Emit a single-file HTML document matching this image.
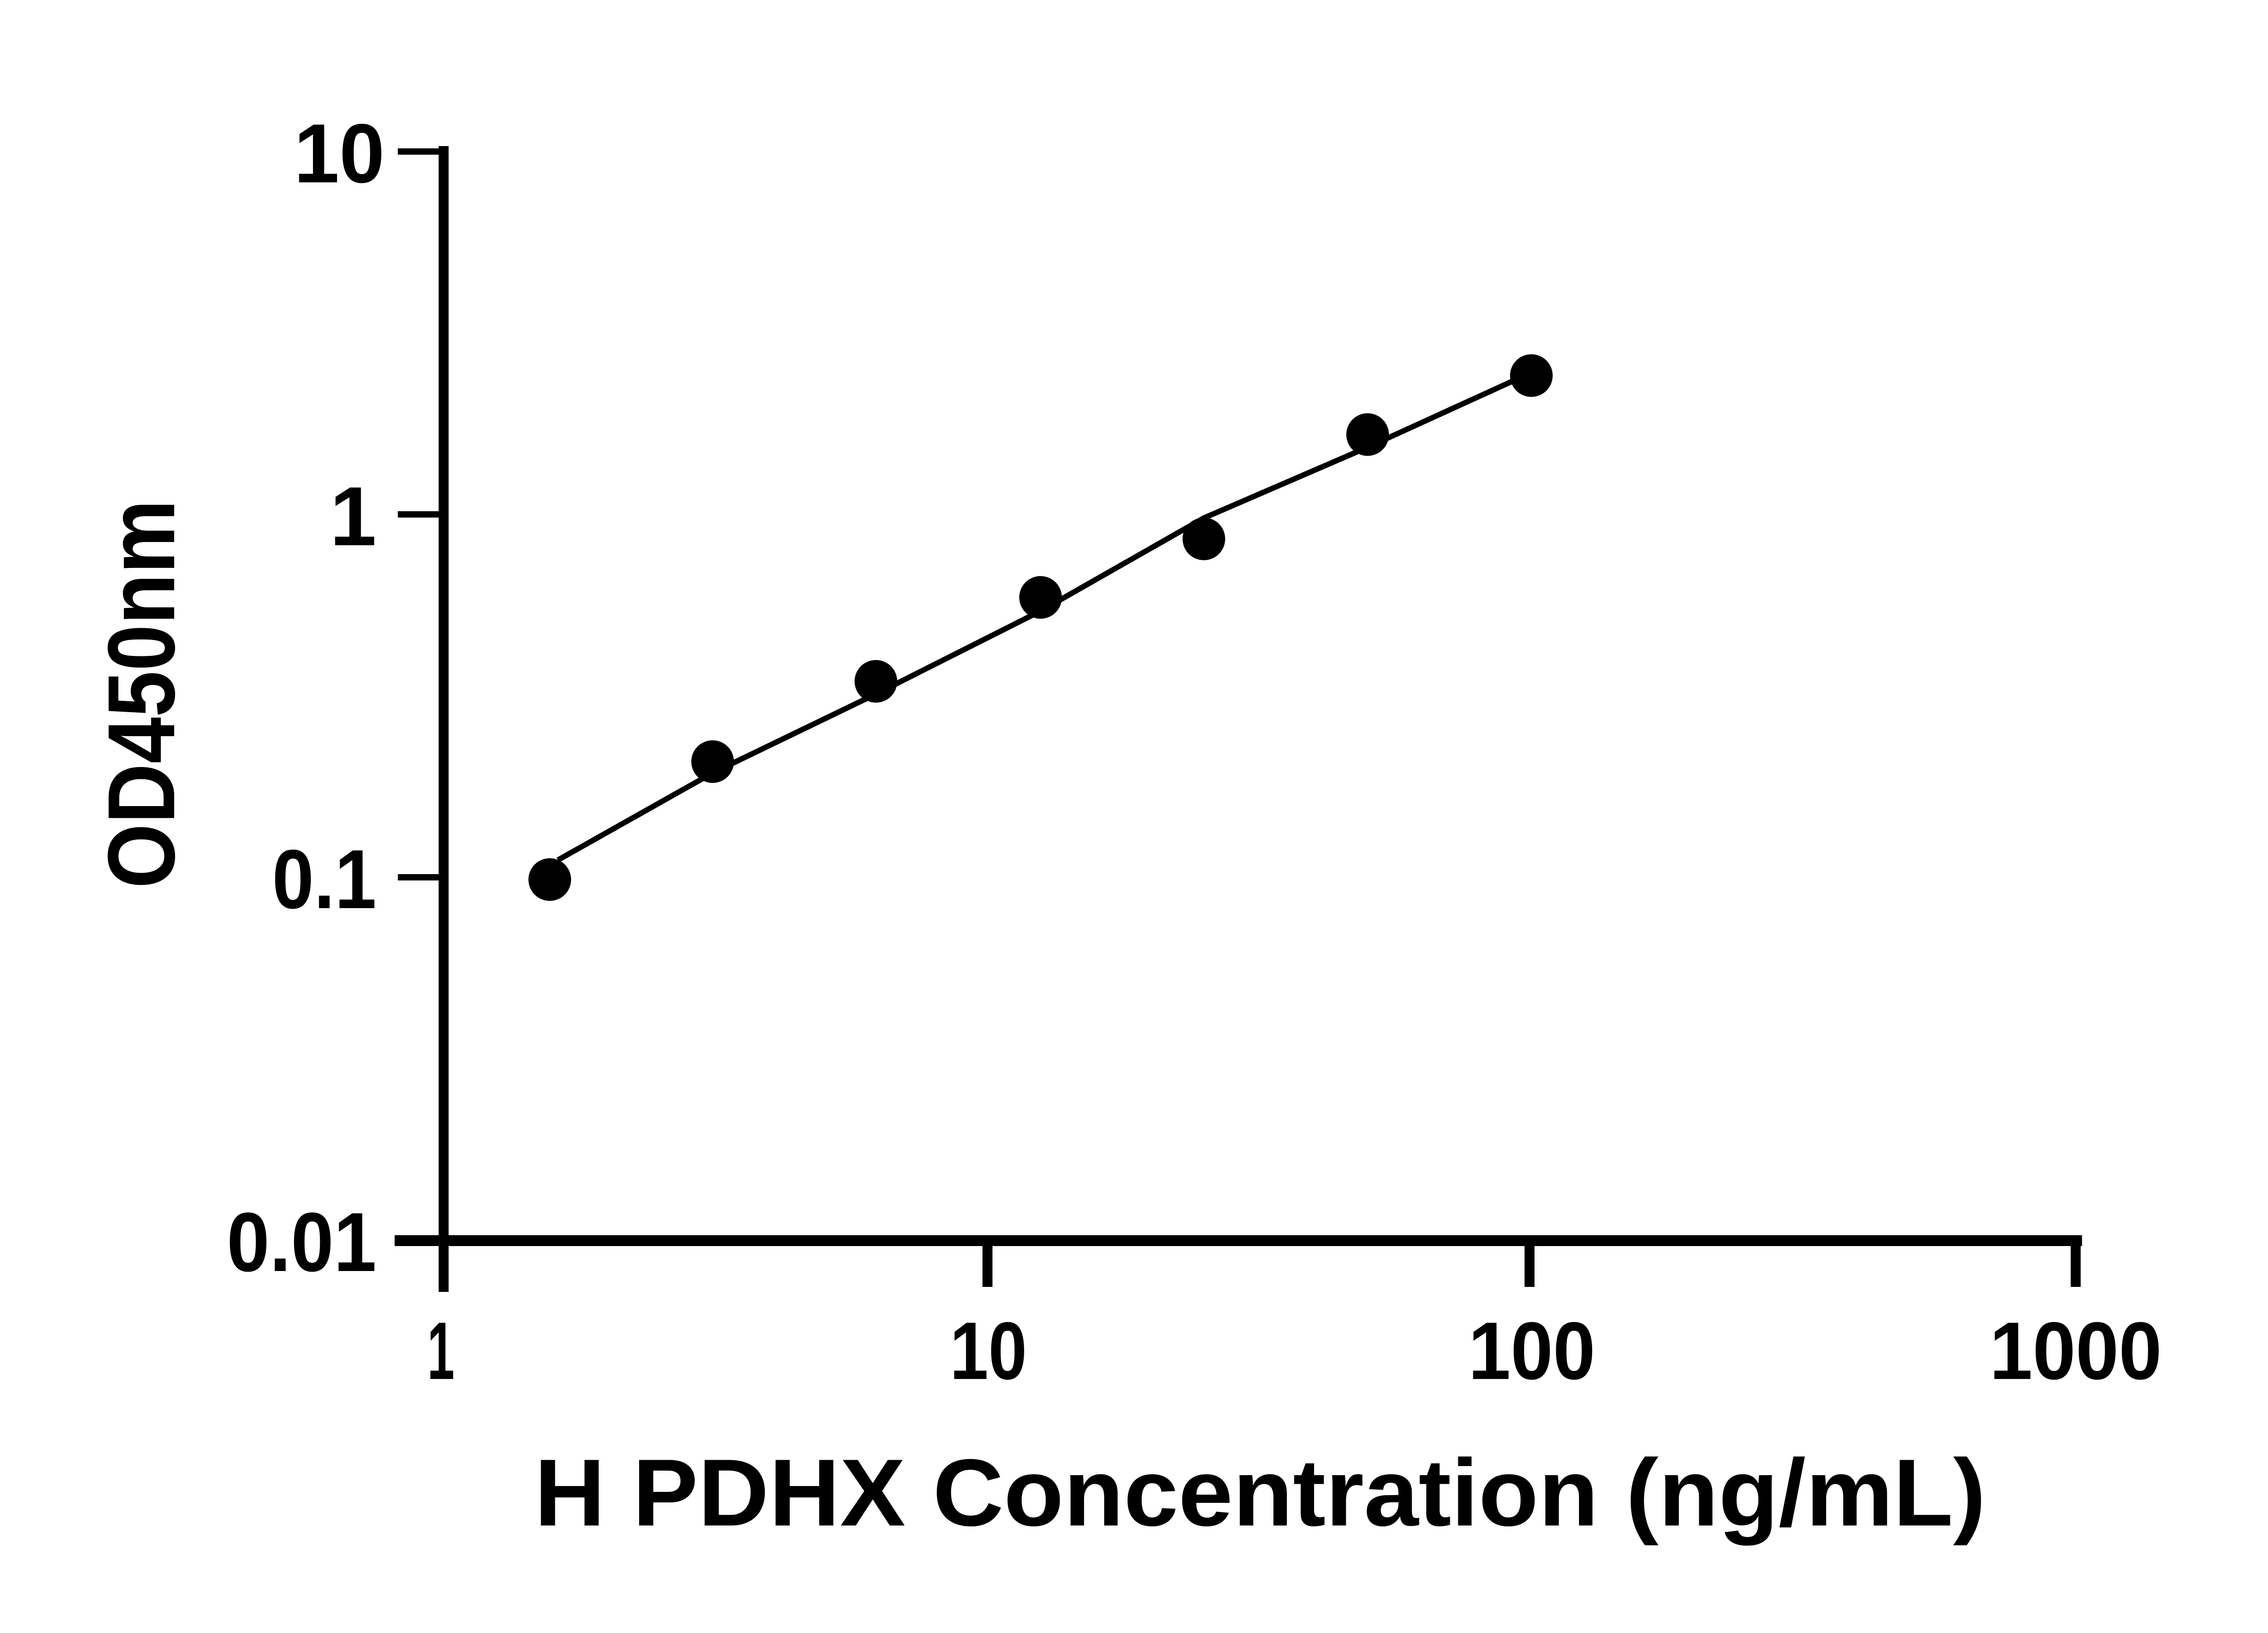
<!DOCTYPE html>
<html><head><meta charset="utf-8"><style>
html,body{margin:0;padding:0;background:#fff;}
svg{display:block;}
text{font-family:"Liberation Sans",sans-serif;font-weight:bold;fill:#000;}
</style></head><body>
<svg width="5130" height="3600" viewBox="0 0 5130 3600" xmlns="http://www.w3.org/2000/svg">
<g stroke="#000" fill="none" stroke-linecap="butt">
<line x1="978" y1="322" x2="978" y2="2848" stroke-width="22"/>
<line x1="870" y1="2735" x2="4590" y2="2735" stroke-width="24"/>
<line x1="877" y1="334" x2="978" y2="334" stroke-width="14"/>
<line x1="877" y1="1134" x2="978" y2="1134" stroke-width="14"/>
<line x1="877" y1="1934" x2="978" y2="1934" stroke-width="14"/>
<line x1="877" y1="2734" x2="978" y2="2734" stroke-width="14"/>
<line x1="2177" y1="2735" x2="2177" y2="2837" stroke-width="22"/>
<line x1="3372" y1="2735" x2="3372" y2="2837" stroke-width="22"/>
<line x1="4576" y1="2735" x2="4576" y2="2837" stroke-width="22"/>
<polyline stroke-width="12" stroke-linejoin="round" points="1230,1896 1571,1704 1931,1530 2294,1347 2654,1142 3015,986 3335,840"/>
</g>
<g fill="#000">
<circle cx="1212" cy="1939" r="47"/>
<circle cx="1571" cy="1679" r="47"/>
<circle cx="1931" cy="1502" r="47"/>
<circle cx="2294" cy="1317" r="47"/>
<circle cx="2654" cy="1188" r="47"/>
<circle cx="3015" cy="958" r="47"/>
<circle cx="3376" cy="828" r="47"/>
</g>
<g font-size="185" text-anchor="end">
<text x="848" y="402" textLength="200" lengthAdjust="spacingAndGlyphs">10</text>
<text x="830" y="1202">1</text>
<text x="830" y="2002" textLength="230" lengthAdjust="spacingAndGlyphs">0.1</text>
<text x="830" y="2802" textLength="330" lengthAdjust="spacingAndGlyphs">0.01</text>
</g>
<g font-size="180" text-anchor="middle">
<text x="972" y="3040" textLength="60" lengthAdjust="spacingAndGlyphs">1</text>
<text x="2179" y="3040" textLength="170" lengthAdjust="spacingAndGlyphs">10</text>
<text x="3377" y="3040" textLength="280" lengthAdjust="spacingAndGlyphs">100</text>
<text x="4576" y="3040" textLength="380" lengthAdjust="spacingAndGlyphs">1000</text>
</g>
<text x="2778" y="3363" font-size="210" text-anchor="middle" textLength="3200" lengthAdjust="spacingAndGlyphs">H PDHX Concentration (ng/mL)</text>
<text transform="translate(384,1530) rotate(-90)" font-size="210" text-anchor="middle" textLength="857" lengthAdjust="spacingAndGlyphs">OD450nm</text>
</svg>
</body></html>
